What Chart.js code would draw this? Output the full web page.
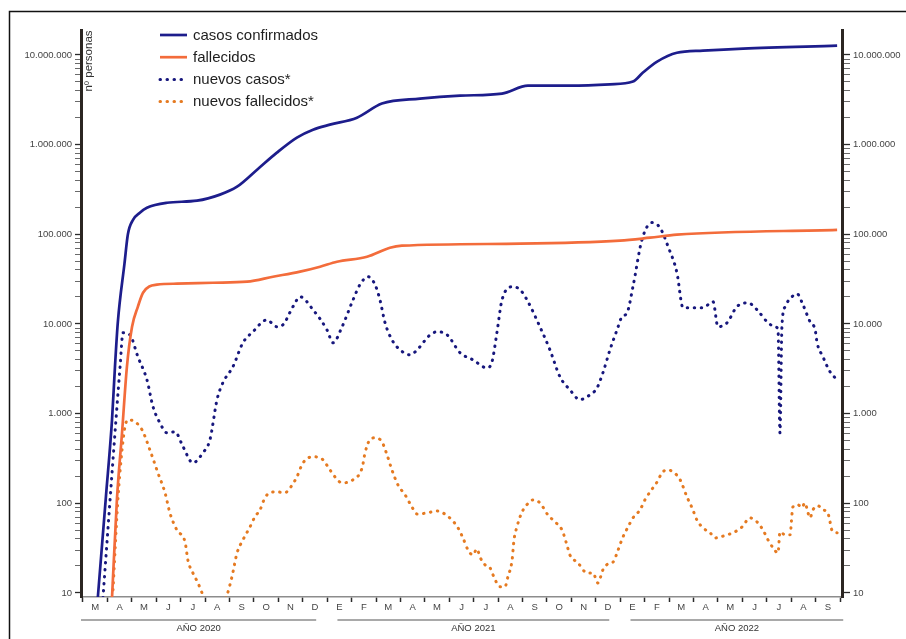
<!DOCTYPE html>
<html lang="es">
<head>
<meta charset="utf-8">
<title>Casos confirmados y fallecidos</title>
<script src="https://cdn.jsdelivr.net/npm/chart.js@4"></script>
<style>
  html, body { margin: 0; padding: 0; background: #fff; }
  #grafico { display: block; }
</style>
</head>
<body>
<canvas id="grafico" width="906" height="639"></canvas>
<script>
// Meses (eje X, desde marzo de 2020) y años
const meses = ['M','A','M','J','J','A','S','O','N','D',
               'E','F','M','A','M','J','J','A','S','O','N','D',
               'E','F','M','A','M','J','J','A','S'];
const anios = ['AÑO 2020', 'AÑO 2021', 'AÑO 2022'];
const mesesPorAnio = [10, 12, 9];

// Escala logarítmica del eje Y
const escalaY = [10, 100, 1000, 10000, 100000, 1000000, 10000000];
const etiquetasY = ['10', '100', '1.000', '10.000', '100.000', '1.000.000', '10.000.000'];

// Casos confirmados acumulados (posición en meses desde el 1 de marzo de 2020)
const casosConfMes   = [0.61, 0.94, 1.19, 1.31, 1.43, 1.70, 1.84, 2.05, 2.33, 2.62, 3.44, 4.67, 5.61, 6.31, 7.13, 7.94, 8.76, 9.42, 10.11, 11.22, 12.24, 13.80, 15.44, 17.16, 18.22, 19.94, 21.58, 22.52, 22.93, 23.51, 24.32, 25.39, 27.03, 30.88];
const casosConfValor = [9, 118, 850, 3300, 10600, 47000, 100000, 145000, 174000, 198000, 225000, 237000, 277000, 340000, 526000, 815000, 1200000, 1470000, 1670000, 2000000, 2870000, 3260000, 3520000, 3710000, 4550000, 4550000, 4700000, 5050000, 6370000, 8440000, 10600000, 11200000, 11800000, 12700000];

// Fallecidos acumulados
const fallMes   = [1.19, 1.39, 1.60, 1.80, 2.01, 2.25, 2.46, 3.03, 3.85, 5.32, 6.72, 7.78, 8.89, 9.71, 10.40, 11.63, 12.57, 13.06, 17.90, 21.99, 23.22, 24.32, 30.88];
const fallValor = [8.8, 109, 611, 3330, 9300, 15600, 22300, 27400, 28100, 28800, 29600, 33600, 38300, 43500, 49400, 56200, 70800, 74600, 78500, 84800, 91600, 99000, 112000];

// Nuevos casos (media)
const nuevosCasosMes = [0.82, 1.23, 1.52, 1.64, 1.92, 2.25, 2.62, 2.87, 3.15, 3.44, 3.77, 4.10, 4.50, 4.91, 5.20, 5.49, 5.73, 6.14, 6.55, 6.96,
  7.53, 7.94, 8.19, 8.60, 8.89, 9.42, 9.99, 10.24, 10.61, 11.06, 11.34, 11.67, 11.96, 12.16, 12.37, 12.65, 12.98, 13.39, 13.80, 14.13,
  14.50, 14.91, 15.44, 15.97, 16.54, 16.75, 16.95, 17.16, 17.61, 17.90, 18.18, 18.71, 19.12, 19.53, 19.94, 20.35, 20.64, 21.05, 21.29, 21.58,
  21.87, 22.07, 22.28, 22.52, 22.89, 23.30, 23.63, 23.96, 24.32, 24.57, 24.86, 25.39, 25.80, 26.00, 26.37, 26.78, 27.23, 27.60, 28.01, 28.34,
  28.46, 28.54, 28.62, 28.75, 29.03, 29.24, 29.48, 29.77, 29.98, 30.06, 30.30, 30.59, 30.88];
const nuevosCasosValor = [8.8, 305, 3330, 7980, 7570, 4300, 2380, 1190, 789, 611, 627, 426, 282, 365, 511, 1430, 2210, 3330, 6170, 8180,
  11100, 9310, 9800, 15600, 20100, 14400, 8610, 6170, 9310, 18600, 27400, 33600, 27400, 18600, 10300, 6670, 5150, 4530, 5570, 7200,
  8180, 7570, 4780, 3980, 3240, 3790, 7980, 18600, 26000, 24100, 18600, 9310, 5150, 2580, 1840, 1430, 1540, 1940, 2850, 5150,
  8610, 12000, 13300, 26000, 87100, 135000, 118000, 72800, 37300, 15200, 15200, 15200, 17700, 9310, 10300, 15600, 17200, 14400, 10600, 9310,
  8610, 611, 9310, 15600, 20100, 21700, 16400, 10600, 8610, 6170, 4300, 2930, 2380];

// Nuevos fallecidos (media)
const nuevosFallMes = [1.23, 1.43, 1.60, 1.72, 1.84, 2.13, 2.42, 2.74, 3.07, 3.36, 3.56, 3.85, 4.18, 4.30, 4.50, 4.71, 4.91, 5.40, 5.90, 6.10,
  6.31, 6.55, 6.84, 7.04, 7.25, 7.45, 7.66, 7.94, 8.27, 8.48, 8.76, 9.01, 9.42, 9.83, 10.11, 10.61, 11.06, 11.43, 11.55, 11.75,
  11.96, 12.24, 12.45, 12.65, 12.90, 13.19, 13.47, 13.68, 14.09, 14.50, 14.74, 15.11, 15.36, 15.56, 15.77, 15.97, 16.13, 16.26, 16.46, 16.67,
  16.79, 17.08, 17.28, 17.40, 17.57, 17.65, 17.77, 17.98, 18.30, 18.43, 18.71, 19.04, 19.33, 19.62, 19.82, 19.94, 20.27, 20.64, 20.88, 21.09,
  21.29, 21.58, 21.70, 21.91, 22.11, 22.32, 22.52, 22.81, 23.01, 23.22, 23.51, 23.71, 23.91, 24.16, 24.45, 24.73, 24.94, 25.14, 25.39, 25.68,
  25.88, 26.08, 26.37, 26.62, 26.99, 27.31, 27.60, 27.85, 28.05, 28.26, 28.46, 28.54, 28.75, 28.95, 29.07, 29.28, 29.44, 29.56, 29.69, 29.77,
  29.89, 30.10, 30.30, 30.50, 30.59, 30.67, 30.88];
const nuevosFallValor = [10.8, 109, 394, 713, 853, 809, 659, 394, 218, 131, 78, 50, 37, 23, 16.7, 12.9, 9.5, 5, 9.5, 15.1,
  27.9, 39, 54.5, 70.5, 84.4, 115, 131, 134, 131, 148, 197, 282, 330, 305, 236, 169, 183, 248, 365, 511,
  537, 485, 347, 236, 160, 124, 91, 76, 78, 82, 78, 65, 53, 41, 30, 26.5, 31, 25, 20.6, 19,
  15.9, 11.7, 11.7, 15.1, 23, 39, 54.5, 80, 104, 109, 101, 74, 62, 50, 34, 26.5, 21.6, 16.7, 16.7, 12.9,
  18.1, 21.6, 22, 30, 42, 54.5, 68.7, 84.4, 109, 134, 173, 218, 236, 224, 183, 118, 89, 65, 53, 46.8,
  41, 42, 44.4, 46.8, 54.5, 68.7, 62, 50, 39, 31.8, 27.9, 48, 44.4, 44.4, 91, 96, 89, 101, 78, 68.7,
  84.4, 93.5, 84.4, 78, 62, 50, 46.8];

const AZUL = '#1d1d8c';
const AZUL_PUNTOS = '#17177d';
const NARANJA = '#f36c3b';
const NARANJA_PUNTOS = '#e57a21';
const FUENTE = "'Liberation Sans', Arial, Helvetica, sans-serif";

const serie = (mes, valor) => mes.map((m, i) => ({ x: m, y: valor[i] }));

// Marcas del eje X: límites de mes (enteros) y centros de mes (etiquetas)
function marcasX(scale) {
  const t = [];
  for (let i = 0; i <= meses.length; i++) {
    t.push({ value: i });
    if (i < meses.length) t.push({ value: i + 0.5 });
  }
  scale.ticks = t;
}

// Marcas del eje Y: décadas y subdivisiones logarítmicas
function marcasY(scale) {
  const t = [];
  escalaY.forEach((d, k) => {
    t.push({ value: d, major: true });
    if (k < escalaY.length - 1) {
      for (let j = 2; j <= 9; j++) t.push({ value: d * j });
    }
  });
  scale.ticks = t;
}

const etiquetaY = (v) => {
  const k = escalaY.indexOf(v);
  return k >= 0 ? etiquetasY[k] : '';
};
const esDecada = (ctx) => ctx.tick && escalaY.indexOf(ctx.tick.value) >= 0;

// Leyenda vertical dentro del área del gráfico
const leyenda = {
  id: 'leyenda',
  afterDraw(chart, args, o) {
    const ctx = chart.ctx;
    ctx.save();
    chart.data.datasets.forEach((ds, i) => {
      const y = o.y + i * o.gap;
      ctx.beginPath();
      ctx.strokeStyle = ds.borderColor;
      ctx.lineWidth = ds.borderWidth;
      ctx.lineCap = ds.borderCapStyle || 'butt';
      ctx.setLineDash(ds.borderDash || []);
      ctx.moveTo(o.x, y);
      ctx.lineTo(o.x + o.len, y);
      ctx.stroke();
      ctx.setLineDash([]);
      ctx.fillStyle = '#1e1e1e';
      ctx.font = '15px ' + FUENTE;
      ctx.textAlign = 'left';
      ctx.textBaseline = 'middle';
      ctx.fillText(ds.label, o.x + o.len + 6, y + 0.5);
    });
    ctx.restore();
  }
};

// Título del eje, años bajo el eje X y marco
const adornos = {
  id: 'adornos',
  afterDraw(chart) {
    const ctx = chart.ctx;
    const x = chart.scales.x;
    ctx.save();

    // título vertical del eje Y
    ctx.translate(88.5, 61);
    ctx.rotate(-Math.PI / 2);
    ctx.fillStyle = '#333';
    ctx.font = '11.5px ' + FUENTE;
    ctx.textAlign = 'center';
    ctx.textBaseline = 'middle';
    ctx.fillText('nº personas', 0, 0);
    ctx.setTransform(1, 0, 0, 1, 0, 0);

    // años
    let inicio = 0;
    anios.forEach((a, i) => {
      const fin = inicio + mesesPorAnio[i];
      const m0 = i === 0 ? x.min : inicio + 0.42;
      const m1 = i === anios.length - 1 ? x.max + 0.05 : fin - 0.45;
      const p0 = x.getPixelForValue(m0);
      const p1 = x.getPixelForValue(m1);
      ctx.beginPath();
      ctx.strokeStyle = '#8c8c8c';
      ctx.lineWidth = 1.5;
      ctx.moveTo(p0, 620);
      ctx.lineTo(p1, 620);
      ctx.stroke();
      ctx.fillStyle = '#333';
      ctx.font = '9.5px ' + FUENTE;
      ctx.textAlign = 'center';
      ctx.textBaseline = 'middle';
      ctx.fillText(a, (p0 + p1) / 2, 628.5);
      inicio = fin;
    });

    // marco
    ctx.beginPath();
    ctx.strokeStyle = '#111';
    ctx.lineWidth = 1.5;
    ctx.moveTo(9.5, 639);
    ctx.lineTo(9.5, 11.5);
    ctx.lineTo(906, 11.5);
    ctx.stroke();
    ctx.restore();
  }
};

const ejeY = (posicion, ancho, largo, relleno) => ({
  type: 'logarithmic',
  position: posicion,
  min: 9,
  max: 19000000,
  afterBuildTicks: marcasY,
  afterFit(s) { s.width = ancho; },
  ticks: {
    autoSkip: false,
    padding: relleno,
    color: '#444',
    font: { family: FUENTE, size: 9.5 },
    callback: (v) => etiquetaY(v)
  },
  grid: {
    drawOnChartArea: false,
    drawTicks: true,
    tickLength: largo,
    tickColor: (ctx) => esDecada(ctx) ? '#2a2a2a' : '#6a6a6a',
    tickWidth: (ctx) => esDecada(ctx) ? 1.3 : 1
  },
  border: { display: true, color: '#2b2622', width: 3 }
});

const discontinua = [0.5, 6.5];

new Chart(document.getElementById('grafico'), {
  type: 'line',
  data: {
    datasets: [
      { label: 'casos confirmados', data: serie(casosConfMes, casosConfValor),
        borderColor: AZUL, borderWidth: 2.7, cubicInterpolationMode: 'monotone', clip: 0 },
      { label: 'fallecidos', data: serie(fallMes, fallValor),
        borderColor: NARANJA, borderWidth: 2.7, cubicInterpolationMode: 'monotone', clip: 0 },
      { label: 'nuevos casos*', data: serie(nuevosCasosMes, nuevosCasosValor),
        borderColor: AZUL_PUNTOS, borderWidth: 3, borderDash: discontinua, borderCapStyle: 'round',
        cubicInterpolationMode: 'monotone', clip: 0 },
      { label: 'nuevos fallecidos*', data: serie(nuevosFallMes, nuevosFallValor),
        borderColor: NARANJA_PUNTOS, borderWidth: 3, borderDash: discontinua, borderCapStyle: 'round',
        cubicInterpolationMode: 'monotone', clip: 0 }
    ]
  },
  options: {
    responsive: false,
    animation: false,
    parsing: true,
    layout: { padding: { top: 30, left: 0, right: 0, bottom: 0 } },
    elements: { point: { radius: 0, hoverRadius: 0 } },
    plugins: {
      legend: { display: false },
      tooltip: { enabled: false },
      leyenda: { x: 160, y: 35, gap: 22.2, len: 27 }
    },
    scales: {
      x: {
        type: 'linear',
        position: 'bottom',
        min: -0.08,
        max: 31.08,
        afterBuildTicks: marcasX,
        afterFit(s) { s.height = 42; },
        ticks: {
          autoSkip: false,
          maxRotation: 0,
          minRotation: 0,
          padding: 0,
          color: '#444',
          font: { family: FUENTE, size: 9.5 },
          callback: (v) => Number.isInteger(v) ? '' : meses[Math.floor(v)]
        },
        grid: {
          drawOnChartArea: false,
          drawTicks: true,
          tickLength: 5,
          tickColor: (ctx) => ctx.tick && Number.isInteger(ctx.tick.value) ? '#2a2a2a' : 'rgba(0,0,0,0)',
          tickWidth: 1.5
        },
        border: { display: true, color: '#8c8c8c', width: 1.5 }
      },
      y: ejeY('left', 81, 6, 3),
      y2: ejeY('right', 64, 8, 3)
    }
  },
  plugins: [leyenda, adornos]
});
</script>
</body>
</html>
